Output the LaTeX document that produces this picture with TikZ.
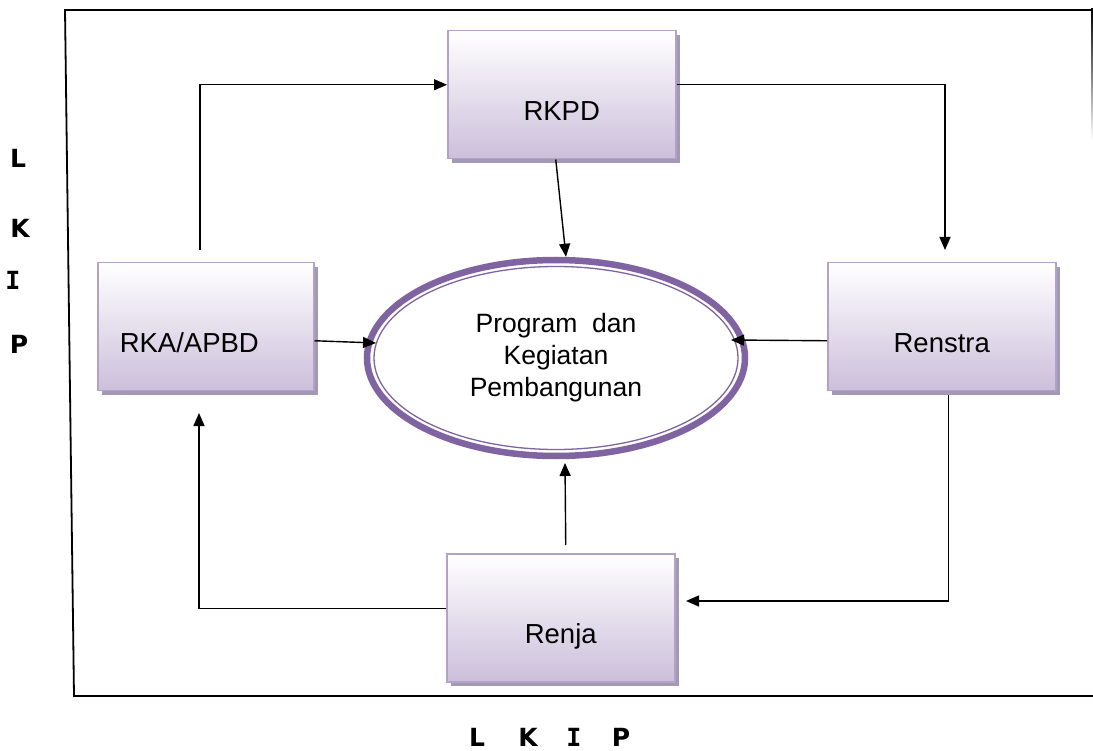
\documentclass[tikz,border=0pt]{standalone}
\usepackage{fontspec}
\setmainfont{Liberation Sans}
\newfontfamily\lkipfont{DejaVu Sans}
\newfontfamily\lkipmono{DejaVu Sans Mono}
\usepackage{tikz}
\usetikzlibrary{shapes,arrows.meta,shadows}
\definecolor{boxline}{RGB}{178,162,199}
\definecolor{boxlow}{RGB}{204,191,219}
\definecolor{boxshadow}{RGB}{163,153,180}
\definecolor{ellline}{RGB}{128,100,162}
\newcommand{\lkipI}{{\lkipmono I}}
\tikzset{
  stage/.style={rectangle, draw=boxline, line width=1.5pt, top color=white, bottom color=boxlow,
    inner ysep=0pt, inner xsep=0pt, text width=228pt, align=center,
    text height=90pt, text depth=38pt, font=\fontsize{27.5}{30}\selectfont,
    drop shadow={shadow xshift=4pt, shadow yshift=-4pt, fill=boxshadow, opacity=1}},
  flow/.style={line width=1.4pt, -{Triangle[length=13pt,width=11pt]}},
  lkip/.style={font=\lkipfont\bfseries\fontsize{25}{25}\selectfont, inner sep=0pt}
}

\begin{document}
\begin{tikzpicture}[x=1pt, y=-1pt]

  \useasboundingbox (0,0) rectangle (1093,751);

  %% frame
  \draw[line width=1.8pt] (1092,10) -- (65,10) -- (74,696) -- (1093,696);
  \fill[top color=black, bottom color=white] (1091,9) rectangle (1093,140);

  \node[stage, anchor=north west] (rkpd) at (447,30) {RKPD};
  \node[stage, anchor=north west, text width=172pt, inner xsep=22pt, align=left] (rka) at (97,262) {RKA/APBD};
  \node[stage, anchor=north west] (renstra) at (827,262) {Renstra};
  \node[stage, anchor=north west] (renja) at (446,553) {Renja};

  \node[ellipse, draw=ellline, line width=6.5pt, minimum width=378pt, minimum height=196pt,
        inner sep=0pt, align=center, font=\fontsize{26.5}{32}\selectfont] (prog) at (556,358)
        {Program\ \ dan\\Kegiatan\\Pembangunan};
  \draw[ellline, line width=1.3pt] (prog.center) ellipse [x radius=182pt, y radius=91.5pt];

  \coordinate (rkaup) at (200,250);
  \coordinate (rsin) at (945,250);
  \coordinate (progr) at (731,340);
  \coordinate (progl) at (376,343);
  \coordinate (progb) at (565,463);
  \coordinate (renjain) at (686,601);
  \coordinate (rkain) at (199,413);

  \draw[flow] (rkaup) |- ([yshift=10pt]rkpd.west); %% RKA/APBD -> RKPD
  \draw[flow] ([yshift=10pt]rkpd.east) -| (rsin); %% RKPD -> Renstra
  \draw[flow] ([xshift=-6pt]rkpd.south) -- ([xshift=10pt]prog.north); %% RKPD -> prog
  \draw[flow] ([yshift=-14pt]renstra.west) -- (progr); %% Renstra -> prog
  \draw[flow] ([yshift=-14pt]rka.east) -- (progl); %% RKA/APBD -> prog
  \draw[flow] ([xshift=7pt,yshift=-4pt]renstra.south) |- (renjain); %% Renstra -> Renja
  \draw[flow] ([xshift=5pt,yshift=8pt]renja.north) -- (progb); %% Renja -> prog
  \draw[flow] ([yshift=9pt]renja.west) -| (rkain); %% Renja -> RKA/APBD

  %% side and bottom letters
  \node[lkip] (sL) at (18,158) {L};
  \node[lkip] (sK) at (20,228) {K};
  \node[lkip] (sI) at (13,280) {\lkipI};
  \node[lkip] (sP) at (19,344) {P};
  \foreach \c/\x in {L/477,K/528,\lkipI/574,P/621}
    \node[lkip] at (\x,737) {\c};

\end{tikzpicture}
\end{document}
